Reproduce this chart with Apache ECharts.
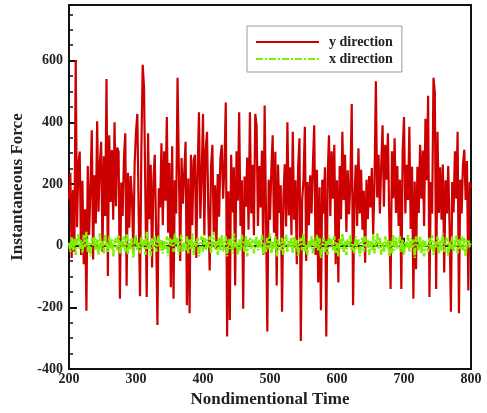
<!DOCTYPE html>
<html><head><meta charset="utf-8">
<script src="https://cdn.jsdelivr.net/npm/echarts@6/dist/echarts.min.js"></script>
<style>html,body{margin:0;padding:0;background:#fff}#c{width:487px;height:413px}</style>
</head><body><div id="c"></div>
<script>
// time sampling: start, step
const tStart = 200, tStep = 2;
const seriesNames = ['y direction', 'x direction'];
const yTicks = [-400, -200, 0, 200, 400, 600];
const xTicks = [200, 300, 400, 500, 600, 700, 800];

const yDirection = [
150,236,-40,180,-20,602,60,265,305,-30,
210,-60,118,-211,258,35,190,374,-45,228,
72,403,110,262,337,-20,290,96,540,-98,
358,142,310,84,400,128,318,305,-172,205,
96,284,364,-130,236,58,226,157,-22,268,
369,427,104,-164,312,586,512,158,-166,364,
86,262,-71,214,295,48,-257,186,124,332,
66,306,146,417,42,268,-135,322,-172,212,
104,544,252,-50,284,136,236,337,-193,218,
-219,295,66,276,295,-40,244,432,88,226,
427,34,312,369,106,-80,258,327,44,196,
-13,232,94,284,327,152,262,464,-294,176,
-241,295,108,254,-129,306,146,432,64,212,
-204,224,126,286,52,432,104,262,34,427,
390,64,258,124,308,-30,454,108,-278,214,
84,246,358,42,304,-129,263,106,196,-214,
156,264,62,400,98,254,34,369,84,212,
-60,256,348,-309,148,214,385,-50,206,66,
228,104,262,390,-30,246,-119,189,-209,214,
104,254,-294,218,358,96,306,152,327,-60,
212,-119,258,86,369,148,295,44,244,102,
206,459,-193,154,262,64,316,104,246,52,
178,-55,214,86,226,124,252,36,204,533,
156,295,104,262,390,126,327,214,364,84,
-140,306,154,348,106,258,64,214,-140,304,
417,104,262,148,385,54,256,-172,208,-76,
256,106,327,152,308,64,411,212,486,-166,
206,104,544,496,-140,369,106,254,84,263,
-87,212,104,258,64,-214,206,108,306,152,
369,-219,214,104,262,311,148,274,-145,206,
189
];

const xDirection = [
10,-20,30,-15,25,-30,15,40,-10,20,
-25,35,-5,45,-20,10,-35,25,0,30,
-15,20,-30,40,-10,15,-25,35,5,-20,
30,-10,20,-35,10,25,-15,35,-25,15,
-5,30,-20,40,-30,20,-10,25,-40,15,
35,-15,10,-25,30,-5,20,-30,45,-10,
15,-35,25,-5,30,-20,10,35,-15,20,
-25,15,-10,30,-35,25,0,20,-20,40,
-5,25,-30,15,35,-20,10,-15,30,-25,
20,-10,40,-30,15,-5,25,-35,10,30,
-20,35,-15,20,-5,30,-25,10,45,-10,
15,-30,25,-15,35,-20,5,30,-35,20,
-10,25,-25,40,-5,15,-30,20,-15,35,
5,-20,30,-35,15,25,-10,20,-25,10,
30,-15,20,-5,35,-30,10,-20,25,-10,
40,-25,15,-10,30,-35,20,5,-15,25,
-30,10,35,-20,15,-5,25,-25,30,-10,
20,-35,10,25,-15,40,-20,5,-30,15,
-5,30,-25,20,-10,35,-15,25,-40,10,
25,-20,15,-30,35,-5,20,-15,30,-25,
10,-35,25,-10,40,-20,15,-30,20,-5,
35,-15,5,-25,30,-10,20,-35,15,25,
-20,30,-5,20,-30,15,-15,35,-25,10,
40,-10,25,-30,10,-20,30,-5,20,-35,
15,-25,35,-15,25,-10,5,30,-20,20,
-30,15,-5,35,-20,25,-10,20,-40,30,
5,-15,30,-25,20,-35,15,10,-20,25,
-10,35,-30,15,-5,30,-25,20,-15,40,
-20,10,25,-35,15,-10,30,-20,5,35,
-25,20,-10,30,-15,25,-35,10,20,-5,
15
];

const toPairs = arr => arr.map((v, i) => [tStart + i * tStep, v]);

const font = 'Liberation Serif, Times New Roman, serif';
const chart = echarts.init(document.getElementById('c'), null, {renderer: 'canvas'});
const yMin = yTicks[0], yMax = 780;
chart.setOption({
  animation: false,
  backgroundColor: '#fff',
  grid: {left: 69, right: 16, top: 5, bottom: 39, show: true, borderColor: '#111', borderWidth: 2},
  legend: {
    orient: 'vertical', left: 247, top: 26,
    padding: [9, 9, 6, 8], itemGap: 3,
    itemWidth: 63, itemHeight: 14,
    borderColor: '#999', borderWidth: 1, backgroundColor: '#fff',
    itemStyle: {opacity: 0},
    lineStyle: {width: 2},
    textStyle: {fontFamily: font, fontWeight: 'bold', fontSize: 14, color: '#222', padding: [0, 0, 0, 5]},
    data: seriesNames
  },
  xAxis: [{
    type: 'value', min: xTicks[0], max: xTicks[xTicks.length - 1], interval: 100,
    name: 'Nondimentional Time', nameLocation: 'middle', nameGap: 17,
    nameTextStyle: {fontFamily: font, fontWeight: 'bold', fontSize: 17, color: '#222'},
    axisLine: {lineStyle: {color: '#111', width: 2}},
    axisTick: {inside: true, length: 8, lineStyle: {color: '#111', width: 2}},
    minorTick: {show: true, splitNumber: 5, length: 4, lineStyle: {color: '#111', width: 1.5}},
    axisLabel: {fontFamily: font, fontWeight: 'bold', fontSize: 14, color: '#222', margin: 3},
    splitLine: {show: false}
  }],
  yAxis: [{
    type: 'value', min: yMin, max: yMax, interval: 200,
    name: 'Instantaneous Force', nameLocation: 'middle', nameGap: 37,
    nameTextStyle: {fontFamily: font, fontWeight: 'bold', fontSize: 17, color: '#222'},
    axisLine: {lineStyle: {color: '#111', width: 2}},
    axisTick: {inside: true, length: 8, lineStyle: {color: '#111', width: 2}},
    axisLabel: {fontFamily: font, fontWeight: 'bold', fontSize: 14, color: '#222', margin: 6, showMaxLabel: false,
      formatter: v => (yTicks.indexOf(v) >= 0 ? String(v) : '')},
    splitLine: {show: false}
  }, {
    type: 'value', min: yMin, max: yMax, interval: 50, position: 'left',
    axisLine: {show: false},
    axisTick: {inside: true, length: 4, lineStyle: {color: '#111', width: 1.5}},
    axisLabel: {show: false},
    splitLine: {show: false}
  }],
  series: [{
    name: seriesNames[0], type: 'line', yAxisIndex: 0, symbol: 'none',
    data: toPairs(yDirection),
    lineStyle: {color: '#CC0000', width: 2.2},
    itemStyle: {color: '#CC0000'}
  }, {
    name: seriesNames[1], type: 'line', yAxisIndex: 0, symbol: 'none',
    data: toPairs(xDirection),
    lineStyle: {color: '#7CF000', width: 2.4, type: [7, 2, 2, 2]},
    itemStyle: {color: '#7CF000'}
  }]
});
</script></body></html>
